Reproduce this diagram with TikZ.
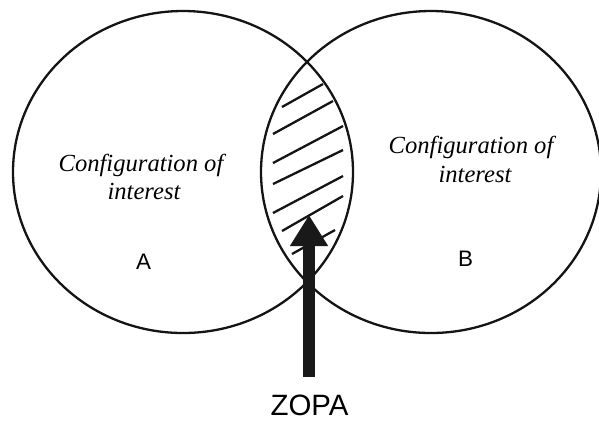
\documentclass[tikz,border=0pt]{standalone}
\usepackage{fontspec}
\setmainfont{Liberation Serif}
\newfontfamily\labelsans{Liberation Sans}
\usetikzlibrary{arrows.meta}
\begin{document}
\begin{tikzpicture}[x=0.5pt,y=-0.5pt,
  ink/.style={draw=black!92,line width=1.15pt},
  hatchline/.style={draw=black!92,line width=1.15pt},
  notetext/.style={font=\fontsize{12.3}{14}\selectfont\itshape,inner sep=0pt,anchor=base},
  sidelabel/.style={font=\labelsans\fontsize{11.2}{13}\selectfont,inner sep=0pt,anchor=base},
  pointer/.style={draw=black!90,line width=6pt,-{Triangle[width=18pt,length=15.5pt]}}]
\useasboundingbox (0,0) rectangle (599,420);
\clip (0,0) rectangle (599,420);

% the two sets
\draw[ink] (183,172) ellipse [x radius=170,y radius=161];
\draw[ink] (431,172) ellipse [x radius=170,y radius=161];

% hatching of the overlap
\draw[hatchline] (282,107) -- (323,84);
\draw[hatchline] (273,134) -- (333,101);
\draw[hatchline] (273,163) -- (343,126);
\draw[hatchline] (273,184) -- (343,150);
\draw[hatchline] (273,213) -- (343,176);
\draw[hatchline] (282,231) -- (343,196);
\draw[hatchline] (292,254) -- (335,230);

% texts
\node[notetext] (a1) at (141,171) {Configuration of};
\node[notetext] (a2) at (144,199) {interest};
\node[notetext] (b1) at (471,153) {Configuration of};
\node[notetext] (b2) at (475,182) {interest};
\node[sidelabel] (la) at (143.5,269.5) {A};
\node[sidelabel] (lb) at (465.5,266.5) {B};
\node[font=\labelsans\fontsize{14.7}{17}\selectfont,inner sep=0pt,anchor=base] (zopa) at (309.5,415.5) {ZOPA};

% pointer to the overlap
\coordinate (tail) at (309,377);
\coordinate (tip) at (309,215);
\draw[pointer] (tail) -- (tip);
\end{tikzpicture}
\end{document}
